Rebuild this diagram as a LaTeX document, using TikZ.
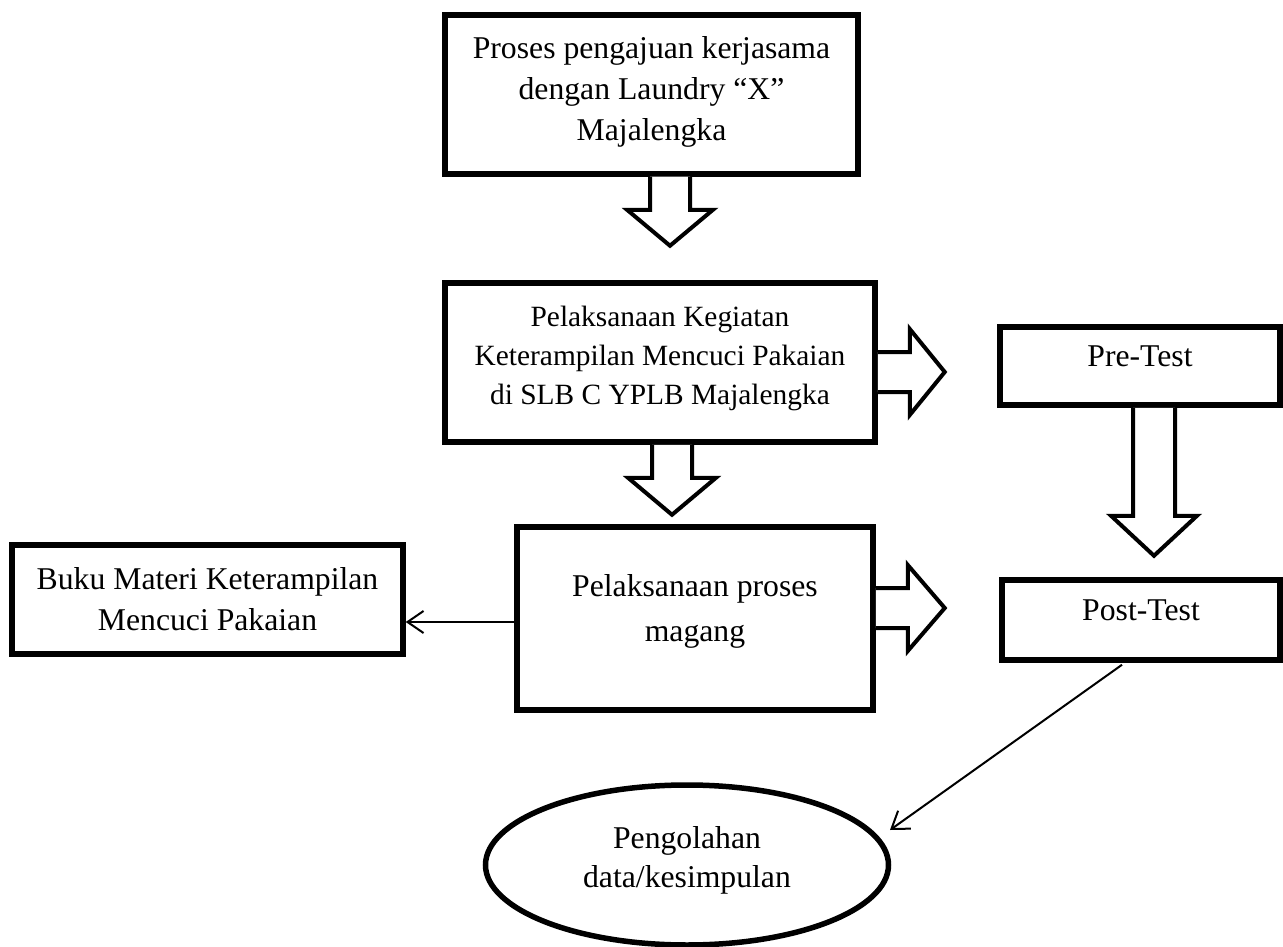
\documentclass[tikz,border=0pt]{standalone}
\usepackage{fontspec}
\setmainfont{Liberation Serif}
\usetikzlibrary{shapes.geometric,arrows.meta,calc}
\newcommand{\liftlines}[2]{\raisebox{#1}[\height][\depth]{\begin{tabular}{@{}c@{}}#2\end{tabular}}}
\begin{document}
\begin{tikzpicture}[x=1pt,y=-1pt,
  boxnode/.style={draw,line width=5.5pt,rectangle,inner sep=0pt,align=center,
    font=\fontsize{31.7}{41}\selectfont},
  ellnode/.style={draw,line width=5.5pt,ellipse,inner sep=0pt,align=center,
    font=\fontsize{31.7}{39}\selectfont},
  blk/.style={draw,line width=4pt,fill=white,line join=miter},
  thin/.style={line width=2pt,-{Straight Barb[length=16pt,width=22pt,line width=2pt]}}]
\useasboundingbox (0,0) rectangle (1283,947);

\node[boxnode,minimum width=413pt,minimum height=159pt] (b1) at (651.5,94.5)
  {\liftlines{3pt}{Proses pengajuan kerjasama\\dengan Laundry “X”\\Majalengka}};
\node[boxnode,minimum width=430pt,minimum height=159pt,
  font=\fontsize{29.4}{39}\selectfont] (b2) at (660,362.5)
  {\liftlines{5pt}{Pelaksanaan Kegiatan\\Keterampilan Mencuci Pakaian\\di SLB C YPLB Majalengka}};
\node[boxnode,minimum width=356pt,minimum height=183pt,
  font=\fontsize{31.7}{45}\selectfont] (b3) at (695,618.5)
  {\liftlines{9pt}{Pelaksanaan proses\\magang}};
\node[boxnode,minimum width=391pt,minimum height=109pt] (buku) at (207.5,599.5)
  {Buku Materi Keterampilan\\Mencuci Pakaian};
\node[boxnode,minimum width=280pt,minimum height=78pt] (pre) at (1140,366)
  {\liftlines{8pt}{Pre-Test}};
\node[boxnode,minimum width=278pt,minimum height=80pt] (post) at (1141,620)
  {\liftlines{8pt}{Post-Test}};
\node[ellnode,minimum width=403pt,minimum height=160pt] (ell) at (687,865)
  {\liftlines{5pt}{Pengolahan\\data/kesimpulan}};

% block arrows
\coordinate (a1) at ($(b1.south)+(18.5,0)$);
\draw[blk] (a1) ++(-20,0) -- ++(0,33) -- ++(-23,0) -- ++(43,36) -- ++(43,-36) -- ++(-23,0) -- ++(0,-33);
\coordinate (a4) at ($(b2.south)+(12,0)$);
\draw[blk] (a4) ++(-20,0) -- ++(0,33) -- ++(-24,0) -- ++(44,37) -- ++(44,-37) -- ++(-24,0) -- ++(0,-33);
\coordinate (a3) at ($(pre.south)+(14,0)$);
\draw[blk] (a3) ++(-21,0) -- ++(0,108) -- ++(-22,0) -- ++(43,40) -- ++(43,-40) -- ++(-22,0) -- ++(0,-108);
\coordinate (a2) at ($(b2.east)+(0,9.5)$);
\draw[blk] (a2) ++(0,-20) -- ++(32,0) -- ++(0,-23) -- ++(35,43) -- ++(-35,43) -- ++(0,-23) -- ++(-32,0);
\coordinate (a5) at ($(b3.east)+(0,-10.5)$);
\draw[blk] (a5) ++(0,-20) -- ++(32,0) -- ++(0,-23) -- ++(37,43) -- ++(-37,43) -- ++(0,-23) -- ++(-32,0);

% thin arrows
\draw[thin] ($(b3.west)+(0,3.5)$) -- ($(buku.east)+(0,22.5)$);
\coordinate (ps) at ($(post.south)+(-19,2)$);
\coordinate (et) at ($(ell.center)+(203,-35)$);
\draw[thin] (ps) -- (et);
\end{tikzpicture}
\end{document}
